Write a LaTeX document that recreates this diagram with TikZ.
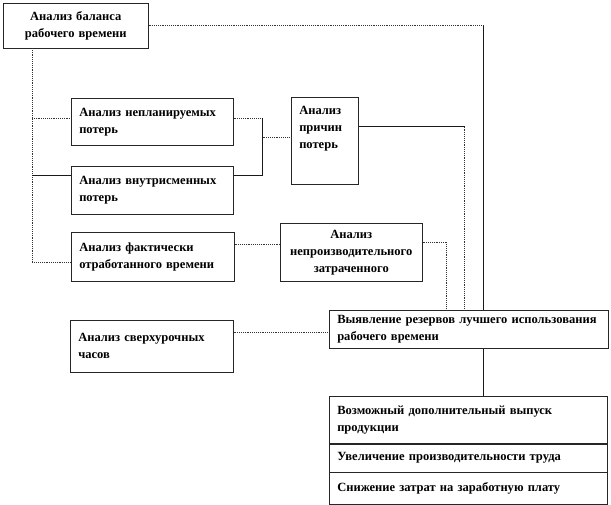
\documentclass[tikz,border=0pt]{standalone}
\usepackage{fontspec}
\setmainfont{Liberation Serif}
\usepackage{tikz}
\usetikzlibrary{calc}
\tikzset{
  box/.style={draw=black!85,thin,anchor=north west,inner xsep=6pt,inner ysep=2pt,
    font=\bfseries\fontsize{9.4}{12.75}\selectfont,align=left},
  mid box/.style={box,align=center},
  dots/.style={densely dotted,thin,draw=black!80},
  solid line/.style={thin,draw=black!90}
}
\begin{document}
\begin{tikzpicture}[x=0.75pt,y=-0.75pt]
  \useasboundingbox (0,0) rectangle (611,505);
  \node [mid box,minimum width=108.75pt,minimum height=33.75pt,text width=96.75pt] (bal) at (3,3)
    {Анализ баланса\\рабочего времени};
  \node [box,minimum width=121.5pt,minimum height=35.25pt,text width=109.5pt] (unpl) at (71,98)
    {Анализ непланируемых\\потерь};
  \node [box,minimum width=121.5pt,minimum height=36pt,text width=109.5pt] (intra) at (71,166)
    {Анализ внутрисменных\\потерь};
  \node [box,minimum width=50.25pt,minimum height=65.25pt,text width=38.25pt] (cause) at (291,97)
    {Анализ\\причин\\потерь\\[8pt]~};
  \node [box,minimum width=122.25pt,minimum height=36.75pt,text width=110.25pt] (fact) at (71,232)
    {Анализ фактически\\отработанного времени};
  \node [mid box,minimum width=106.5pt,minimum height=43.5pt,text width=94.5pt] (unprod) at (280,223)
    {Анализ\\непроизводительного\\затраченного};
  \node [box,minimum width=122.25pt,minimum height=39pt,text width=110.25pt] (over) at (70,320)
    {Анализ сверхурочных\\часов};
  \node [box,minimum width=209.25pt,minimum height=28.5pt,text width=197.25pt] (res) at (329,310)
    {\mbox{Выявление резервов лучшего использования}\\рабочего времени};
  \node [box,minimum width=208.5pt,minimum height=35.25pt,text width=196.5pt] (out1) at (329,396)
    {Возможный дополнительный выпуск\\продукции};
  \node [box,minimum width=208.5pt,minimum height=21pt,text width=196.5pt] (out2) at (out1.south west)
    {Увеличение производительности труда};
  \node [box,minimum width=208.5pt,minimum height=24pt,text width=196.5pt] (out3) at (out2.south west)
    {Снижение затрат на заработную плату};

  % left spine
  \coordinate (sp) at (32,48);
  \coordinate (uw) at ($(unpl.north west)!.43!(unpl.south west)$);
  \coordinate (iw) at ($(intra.north west)!.2!(intra.south west)$);
  \draw [dots] (sp) |- ($(fact.north west)!.61!(fact.south west)$);
  \draw [dots] (sp |- uw) -- (uw);
  \draw [solid line] (sp |- iw) -- (iw);

  % losses to causes
  \draw [dots] ($(unpl.north east)!.43!(unpl.south east)$) -- ++(29,0) coordinate (j1);
  \draw [solid line] ($(intra.north east)!.2!(intra.south east)$) -| (j1);
  \coordinate (cw) at ($(cause.north west)!.46!(cause.south west)$);
  \draw [dots] (j1 |- cw) -- (cw);

  % into the reserves box
  \draw [dots] (bal.east) -- ++(335,0) coordinate (c1);
  \draw [solid line] (c1) -- (c1 |- res.north);
  \draw [solid line] ($(cause.north east)!.34!(cause.south east)$) -- ++(106,0) coordinate (c2);
  \draw [dots] (c2) -- (c2 |- res.north);
  \coordinate (fe) at ($(fact.north east)!.245!(fact.south east)$);
  \draw [dots] (fe) -- (fe -| unprod.west);
  \draw [dots] ($(unprod.north east)!.33!(unprod.south east)$) -- ++(24,0) coordinate (c3);
  \draw [dots] (c3) -- (c3 |- res.north);
  \coordinate (oe) at ($(over.north east)!.23!(over.south east)$);
  \draw [dots] (oe) -- (oe -| res.west);
  \draw [solid line] (res.south -| c1) -- (out1.north -| c1);
\end{tikzpicture}
\end{document}
